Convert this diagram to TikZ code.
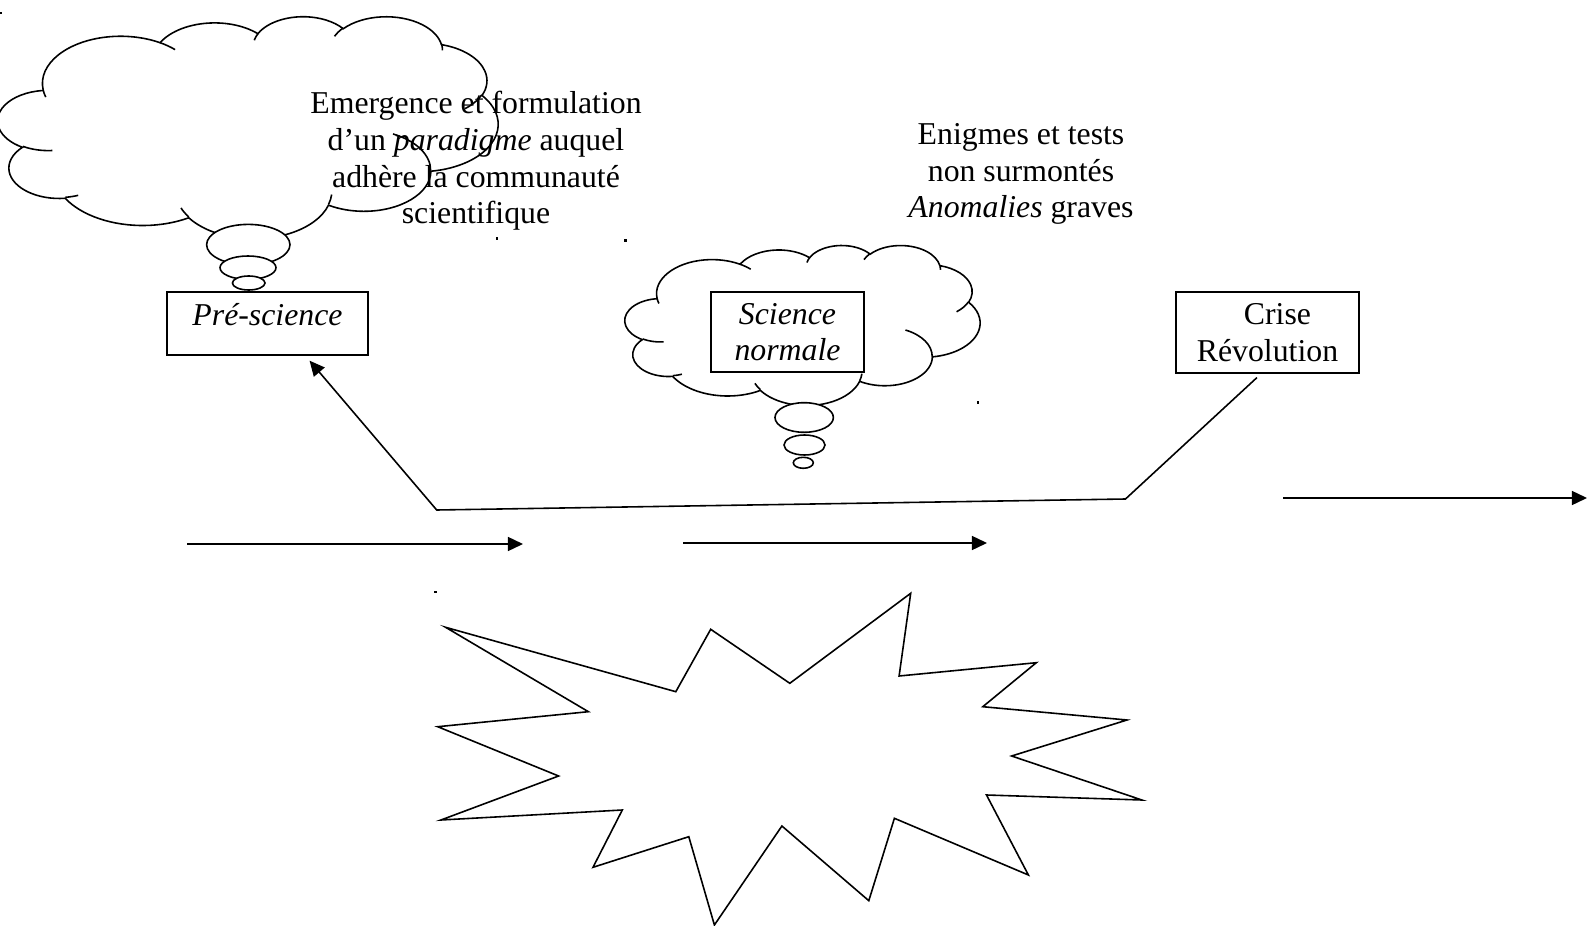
\documentclass[tikz,border=0pt]{standalone}
\usepackage{fontspec}
\setmainfont{Liberation Serif}
\usetikzlibrary{arrows.meta, positioning}

\tikzset{
  txt/.style={font=\fontsize{12pt}{13.8pt}\selectfont, align=center},
  italic/.style={font=\fontsize{12pt}{13.8pt}\selectfont\itshape, align=center},
  box/.style={draw, fill=white, line width=0.45pt, inner sep=0pt},
  bubble/.style={draw, fill=white, line width=0.6pt},
  arrow/.style={line width=0.6pt, -{Triangle[length=5.7pt, width=5.3pt]}},
  speck/.style={fill=black},
}

% one puff of the cloud: x radius, y radius, start angle, sweep (angles as seen)
\newcommand\puff[4]{arc[x radius=#1, y radius=#2,
  start angle={atan2((#1)*sin(#3),(#2)*cos(#3))},
  delta angle={mod(atan2((#1)*sin((#3)+(#4)),(#2)*cos((#3)+(#4)))-atan2((#1)*sin(#3),(#2)*cos(#3))+720,360)}]}

% cloud outline in a 432 x 432 box
\newcommand\cloudline{(39.00,143.70)
  \puff{67.53}{91.90}{-190.4875}{123.7805}
  \puff{53.33}{72.67}{-144.1024}{89.9452}
  \puff{43.65}{59.45}{-145.8079}{99.7230}
  \puff{48.57}{65.95}{-130.9861}{117.2417}
  \puff{53.33}{72.73}{-78.7089}{109.0269}
  \puff{67.75}{92.20}{-46.2673}{130.2690}
  \puff{57.85}{78.67}{0.6250}{114.0333}
  \puff{67.52}{92.15}{22.4516}{115.1726}
  \puff{77.20}{105.43}{66.2426}{75.7110}
  \puff{43.60}{59.18}{-274.9421}{146.7356}
  \puff{43.45}{59.45}{-246.8285}{152.5189} -- cycle}

% inner folds of the cloud
\newcommand\cloudfolds{
  (46.93,261.77) \puff{43.45}{59.45}{86.7420}{26.4295}
  (69.28,348.99) \puff{43.60}{59.18}{73.6105}{11.4475}
  (164.78,390.90) \puff{67.52}{92.15}{137.6242}{14.0811}
  (288.27,347.51) \puff{67.52}{92.15}{6.4533}{15.9984}
  (341.29,229.54) \puff{57.85}{78.67}{-70.2924}{70.9174}
  (417.98,153.54) \puff{53.33}{72.73}{30.3180}{27.7515}
  (383.24,54.26) \puff{48.57}{65.95}{-13.7443}{14.8589}
  (290.78,39.52) \puff{48.57}{65.95}{-149.1815}{18.1954}
  (221.41,47.20) \puff{43.65}{59.45}{-163.4943}{17.6864}
  (140.00,51.92) \puff{67.53}{91.90}{-66.7070}{12.3194}
  (41.27,157.89) \puff{67.53}{91.90}{157.6544}{11.8582}}

\begin{document}
\begin{tikzpicture}[x=0.3775pt, y=-0.3775pt]
  \useasboundingbox (0,0) rectangle (1587,926);

  % cloud over the pre-science
  \begin{scope}[shift={(-2,16)}, xscale=500/432, yscale=222/432]
    \draw[bubble] \cloudline;
    \draw[bubble, fill=none] \cloudfolds;
  \end{scope}
  \draw[bubble] (248.3,244.7) ellipse [x radius=41.7, y radius=20.3];
  \draw[bubble] (248,267.7) ellipse [x radius=28, y radius=11.7];
  \draw[bubble] (248.7,283) ellipse [x radius=16.3, y radius=7];

  % cloud round the normal science
  \begin{scope}[shift={(625,245)}, xscale=355/432, yscale=160/432]
    \draw[bubble] \cloudline;
    \draw[bubble, fill=none] \cloudfolds;
  \end{scope}
  \draw[bubble] (804.2,417.5) ellipse [x radius=29.2, y radius=14.8];
  \draw[bubble] (804.5,445) ellipse [x radius=20.5, y radius=10];
  \draw[bubble] (803.3,462.8) ellipse [x radius=10, y radius=5.5];

  % explosion
  \draw[bubble] (445.6,627.3) -- (675.8,691.7) -- (710.7,629.3) -- (789.8,683.3)
    -- (910.7,593.3) -- (899.1,676) -- (1036.3,662.7) -- (982.8,706.7)
    -- (1127,720) -- (1011.6,756) -- (1141.9,800) -- (986.5,795)
    -- (1028.4,875) -- (894.4,818.3) -- (868.8,900.7) -- (781.9,826)
    -- (714.4,925) -- (688.8,836.7) -- (593,867.3) -- (622.3,810)
    -- (440.9,820) -- (558.6,776) -- (437.7,726.7) -- (588.4,711.7) -- cycle;

  % texts
  \node[txt] (emerg) at (476,161) {Emergence et formulation\\d’un \textit{paradigme} auquel\\adhère la communauté\\scientifique};
  \node[txt] (enigm) at (1021,174) {Enigmes et tests\\non surmontés\\\textit{Anomalies} graves};

  % stages
  \node[box, italic, minimum width=75.9pt, minimum height=23.8pt, text height=12.8pt, text depth=11pt] (pre) at (267.5,323.5) {Pré-science};
  \node[box, italic, minimum width=57.8pt, minimum height=30.2pt] (normal) at (787.5,332) {Science\\normale};
  \node[box, txt, minimum width=69.1pt, minimum height=30.6pt] (crise) at (1267.5,332.5) {\hspace*{7.5pt}Crise\\Révolution};

  % way back from the crisis
  \coordinate (kneeR) at (1125.5,499);
  \coordinate (kneeL) at (436.7,510);
  \draw[arrow] ([xshift=-4pt,yshift=-1.5pt]crise.south) -- (kneeR) -- (kneeL)
    -- ([xshift=-22.3pt,yshift=-1.9pt]pre.south east);

  % time arrows
  \coordinate (t1s) at (187,544);
  \coordinate (t1e) at (523,544);
  \coordinate (t2s) at (683,543);
  \coordinate (t2e) at (987,543);
  \coordinate (t3s) at (1283,498);
  \coordinate (t3e) at (1587,498);
  \draw[arrow] (t1s) -- (t1e);
  \draw[arrow] (t2s) -- (t2e);
  \draw[arrow] (t3s) -- (t3e);

  % stray anchor marks
  \fill[speck] (0,12) rectangle (2.5,14.5);
  \fill[speck] (495.5,237.5) rectangle (498,240);
  \fill[speck] (624,239.5) rectangle (626.5,242);
  \fill[speck] (976.5,401) rectangle (979,403.5);
  \fill[speck] (434,590.5) rectangle (436.5,593);
\end{tikzpicture}
\end{document}
